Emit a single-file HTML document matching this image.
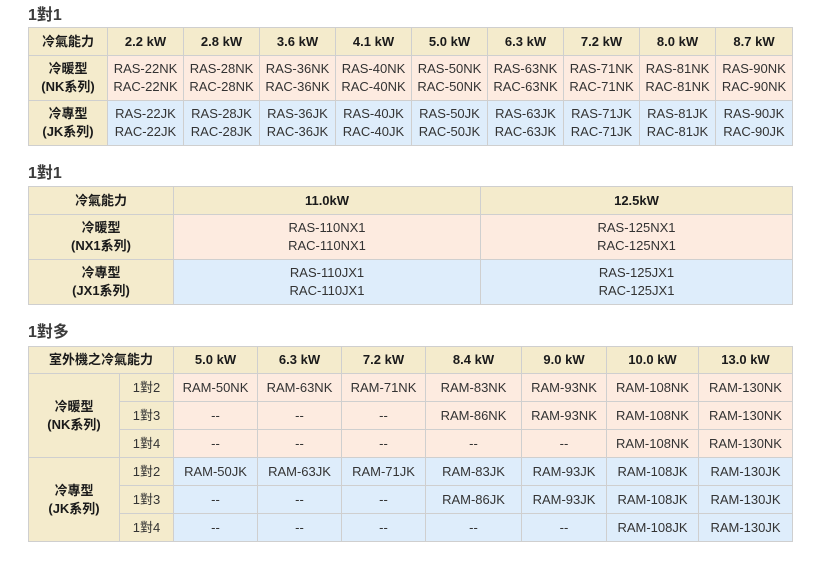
<!DOCTYPE html>
<html><head><meta charset="utf-8">
<style>
html,body{margin:0;padding:0;background:#fff;width:834px;height:564px;overflow:hidden;}
body{font-family:"Liberation Sans","Noto Sans CJK TC",sans-serif;color:#333;font-size:13px;}
.t{position:absolute;left:28px;font-size:16px;font-weight:bold;color:#3c3c3c;line-height:16px;}
.g{position:absolute;left:28px;display:grid;background:#cfcfcf;gap:1px;padding:1px;}
.g>div{display:flex;align-items:center;justify-content:center;text-align:center;line-height:18px;white-space:nowrap;}
.h{background:#f4ebcc;font-weight:bold;color:#1a1a1a;}
.p{background:#fdebe0;}
.b{background:#deedfb;}
.r{background:#f4ebcc;}
</style></head><body>

<div class="t" style="top:8px;">1對1</div>
<div class="g" style="top:27px;grid-template-columns:78px repeat(8,75px) 76px;grid-template-rows:27px 44px 44px;">
<div class="h">冷氣能力</div>
<div class="h">2.2 kW</div><div class="h">2.8 kW</div><div class="h">3.6 kW</div><div class="h">4.1 kW</div><div class="h">5.0 kW</div><div class="h">6.3 kW</div><div class="h">7.2 kW</div><div class="h">8.0 kW</div><div class="h">8.7 kW</div>
<div class="h">冷暖型<br>(NK系列)</div>
<div class="p">RAS-22NK<br>RAC-22NK</div><div class="p">RAS-28NK<br>RAC-28NK</div><div class="p">RAS-36NK<br>RAC-36NK</div><div class="p">RAS-40NK<br>RAC-40NK</div><div class="p">RAS-50NK<br>RAC-50NK</div><div class="p">RAS-63NK<br>RAC-63NK</div><div class="p">RAS-71NK<br>RAC-71NK</div><div class="p">RAS-81NK<br>RAC-81NK</div><div class="p">RAS-90NK<br>RAC-90NK</div>
<div class="h">冷專型<br>(JK系列)</div>
<div class="b">RAS-22JK<br>RAC-22JK</div><div class="b">RAS-28JK<br>RAC-28JK</div><div class="b">RAS-36JK<br>RAC-36JK</div><div class="b">RAS-40JK<br>RAC-40JK</div><div class="b">RAS-50JK<br>RAC-50JK</div><div class="b">RAS-63JK<br>RAC-63JK</div><div class="b">RAS-71JK<br>RAC-71JK</div><div class="b">RAS-81JK<br>RAC-81JK</div><div class="b">RAS-90JK<br>RAC-90JK</div>
</div>

<div class="t" style="top:166px;">1對1</div>
<div class="g" style="top:186px;grid-template-columns:144px 306px 311px;grid-template-rows:27px 44px 44px;">
<div class="h">冷氣能力</div><div class="h">11.0kW</div><div class="h">12.5kW</div>
<div class="h">冷暖型<br>(NX1系列)</div><div class="p">RAS-110NX1<br>RAC-110NX1</div><div class="p">RAS-125NX1<br>RAC-125NX1</div>
<div class="h">冷專型<br>(JX1系列)</div><div class="b">RAS-110JX1<br>RAC-110JX1</div><div class="b">RAS-125JX1<br>RAC-125JX1</div>
</div>

<div class="t" style="top:325px;">1對多</div>
<div class="g" style="top:346px;grid-template-columns:90px 53px 83px 83px 83px 95px 84px 91px 93px;grid-template-rows:26px repeat(6,27px);">
<div class="h" style="grid-column:1/3;">室外機之冷氣能力</div>
<div class="h">5.0 kW</div><div class="h">6.3 kW</div><div class="h">7.2 kW</div><div class="h">8.4 kW</div><div class="h">9.0 kW</div><div class="h">10.0 kW</div><div class="h">13.0 kW</div>

<div class="h" style="grid-row:2/5;grid-column:1;">冷暖型<br>(NK系列)</div>
<div class="r">1對2</div><div class="p">RAM-50NK</div><div class="p">RAM-63NK</div><div class="p">RAM-71NK</div><div class="p">RAM-83NK</div><div class="p">RAM-93NK</div><div class="p">RAM-108NK</div><div class="p">RAM-130NK</div>
<div class="r">1對3</div><div class="p">--</div><div class="p">--</div><div class="p">--</div><div class="p">RAM-86NK</div><div class="p">RAM-93NK</div><div class="p">RAM-108NK</div><div class="p">RAM-130NK</div>
<div class="r">1對4</div><div class="p">--</div><div class="p">--</div><div class="p">--</div><div class="p">--</div><div class="p">--</div><div class="p">RAM-108NK</div><div class="p">RAM-130NK</div>

<div class="h" style="grid-row:5/8;grid-column:1;">冷專型<br>(JK系列)</div>
<div class="r">1對2</div><div class="b">RAM-50JK</div><div class="b">RAM-63JK</div><div class="b">RAM-71JK</div><div class="b">RAM-83JK</div><div class="b">RAM-93JK</div><div class="b">RAM-108JK</div><div class="b">RAM-130JK</div>
<div class="r">1對3</div><div class="b">--</div><div class="b">--</div><div class="b">--</div><div class="b">RAM-86JK</div><div class="b">RAM-93JK</div><div class="b">RAM-108JK</div><div class="b">RAM-130JK</div>
<div class="r">1對4</div><div class="b">--</div><div class="b">--</div><div class="b">--</div><div class="b">--</div><div class="b">--</div><div class="b">RAM-108JK</div><div class="b">RAM-130JK</div>
</div>

</body></html>
